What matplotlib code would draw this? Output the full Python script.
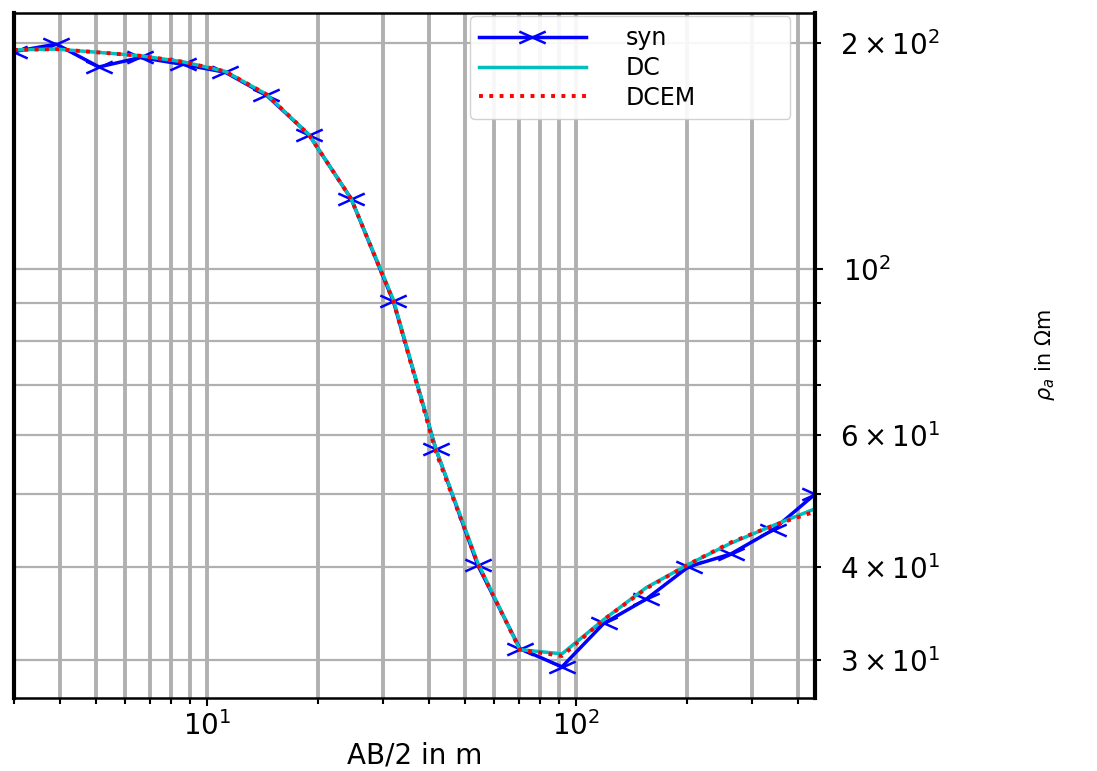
import matplotlib
matplotlib.use("Agg")
import matplotlib.pyplot as plt
from matplotlib.path import Path

# AB/2 spacings (m) and apparent resistivities (Ohm m)
ab2 = [3.0, 3.9, 5.1, 6.6, 8.6, 11.2, 14.5, 18.9, 24.6, 32.0,
       41.7, 54.2, 70.5, 91.7, 119.0, 155.0, 202.0, 263.0, 342.0, 445.0]
rho_syn = [195, 199.5, 186, 191.5, 187.5, 183, 170.5, 151, 124, 90.5,
           57.5, 40.2, 31.1, 29.4, 33.6, 36.2, 40.0, 41.6, 44.8, 50.0]
rho_dc = [196, 196.5, 194.5, 192.5, 189, 183.5, 171, 151, 124, 91,
          57.5, 40.5, 31.0, 30.6, 34.0, 37.5, 40.3, 43.0, 45.4, 47.8]
rho_dcem = [196, 196.5, 194.5, 192.5, 189, 183.5, 171, 151, 124, 90.5,
            57.0, 40.3, 31.0, 30.4, 34.0, 37.4, 40.3, 43.1, 45.4, 47.4]

# wide "x" marker, the reference looks horizontally stretched
wide_x = Path([(-1, -0.45), (1, 0.45), (-1, 0.45), (1, -0.45)],
              [Path.MOVETO, Path.LINETO, Path.MOVETO, Path.LINETO])

fig = plt.figure(figsize=(10.97, 7.71), dpi=100)
ax = fig.add_axes([0.0128, 0.0947, 0.7302, 0.8884])

ax.loglog(ab2, rho_syn, "b-", marker=wide_x, lw=2.5, ms=19, mew=1.8, label="syn")
ax.loglog(ab2, rho_dc, "c-", lw=2.5, label="DC")
ax.loglog(ab2, rho_dcem, "r:", lw=2.8, label="DCEM")

ax.set_xlim(ab2[0], ab2[-1])
ax.xaxis.grid(True, which="both", color="#b0b0b0", lw=2.8)
ax.yaxis.grid(True, which="both", color="#b0b0b0", lw=1.6)

ax.yaxis.tick_right()
ax.yaxis.set_label_position("right")
ax.tick_params(which="both", labelsize=20, width=1.5)
ax.tick_params(which="major", length=6)
ax.tick_params(which="minor", length=4)
ax.tick_params(axis="y", which="both", pad=14)
for side in ("left", "right"):
    ax.spines[side].set_linewidth(3)
for side in ("top", "bottom"):
    ax.spines[side].set_linewidth(1.8)

ax.set_xlabel("AB/2 in m", fontsize=20, labelpad=0)
ax.set_ylabel(r"$\rho_a$ in $\Omega$m", fontsize=15)
ax.yaxis.set_label_coords(1.272, 0.5)

ax.legend(loc="upper left", bbox_to_anchor=(0.569, 0.85, 0.40, 0.145),
          mode="expand", fontsize=17, handlelength=4.5, handletextpad=1.7,
          labelspacing=0.25, borderaxespad=0.0, framealpha=0.9)

fig.savefig("out.png", dpi=100)
